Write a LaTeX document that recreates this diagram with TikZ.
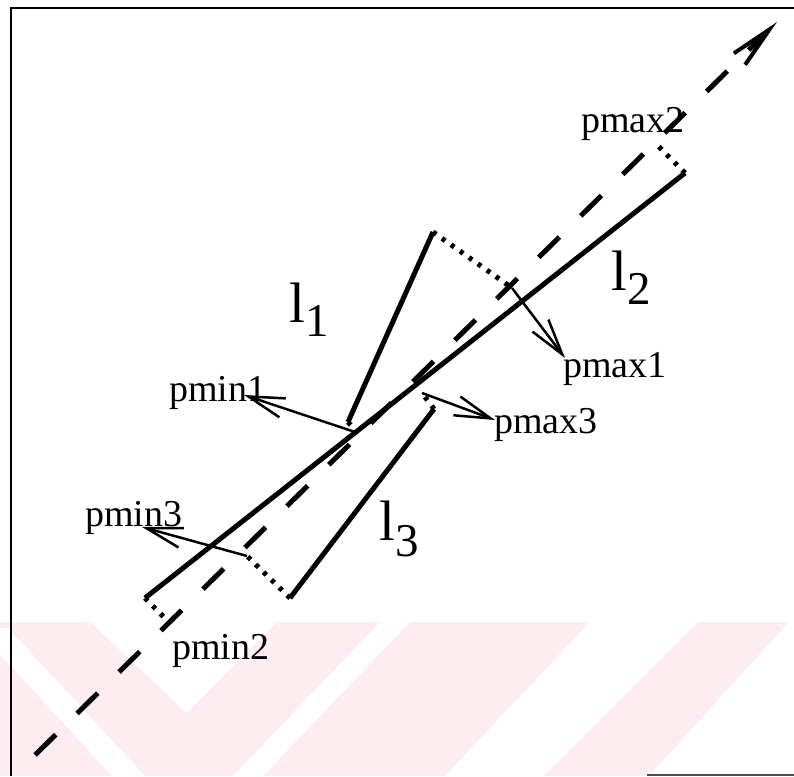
\documentclass[tikz,border=0pt]{standalone}
\usepackage{fontspec}
\setmainfont{Liberation Serif}
\usetikzlibrary{arrows.meta,calc}
\definecolor{wm}{RGB}{253,236,240}
\begin{document}
\begin{tikzpicture}[x=1pt,y=-1pt,
  solidln/.style={line width=5pt},
  dotln/.style={line width=5pt, dash pattern=on 4pt off 7pt},
  axisln/.style={line width=5pt, dash pattern=on 29pt off 30pt, dash phase=49pt,
     -{Straight Barb[length=42pt,width=16pt,line width=4pt]}},
  ptr/.style={line width=2.5pt, -{Straight Barb[length=36pt,width=20pt,line width=2.5pt]}},
  lbl/.style={font=\fontsize{38}{44}\selectfont, inner sep=0pt, anchor=base west},
  big/.style={font=\fontsize{57}{60}\selectfont, inner sep=0pt, anchor=base west},
  wmark/.style={fill=wm, draw=none},
  wgap/.style={fill=white, draw=none}]
\useasboundingbox (0,0) rectangle (794,776);
% watermark band
\fill[wmark] (0,622) rectangle (794,776);
\fill[wgap] (0,628) -- (8,628) -- (145,776) -- (112,776) -- (0,654) -- cycle;
\fill[wgap] (90,622) -- (277,622) -- (187,713) -- cycle;
\fill[wgap] (380,622) -- (410,622) -- (263,776) -- (233,776) -- cycle;
\fill[wgap] (590,622) -- (698,622) -- (544,776) -- (445,776) -- cycle;
\fill[wgap] (789,622) -- (794,622) -- (794,776) -- (649,776) -- cycle;
% frame
\draw[line width=2.5pt] (11,776) -- (11,8) -- (794,8);
\draw[line width=2pt, black!70] (647,775) -- (794,775);
% axis
\coordinate (A0) at (28,762);
\coordinate (A1) at (777,22);
\draw[axisln] (A0) -- (A1);
% segment l2
\coordinate (L2a) at (145,598);
\coordinate (L2b) at (685,173);
\coordinate (Pmin2) at ($(A0)!(L2a)!(A1)$);
\coordinate (Pmax2) at ($(A0)!(L2b)!(A1)$);
\draw[solidln] (L2a) -- (L2b);
\draw[dotln] (L2a) -- (Pmin2);
\draw[dotln] (L2b) -- (Pmax2);
% segment l1
\coordinate (L1a) at (348,422);
\coordinate (L1b) at (433,232);
\coordinate (Pmax1) at (512,288);
\coordinate (Pmin1) at (358,433);
\draw[solidln] (L1a) -- (L1b);
\draw[dotln] (L1b) -- (Pmax1);
\draw[dotln] (L1a) -- (Pmin1);
% segment l3
\coordinate (L3a) at (290,598);
\coordinate (L3b) at (434,409);
\coordinate (Pmin3) at (247,556);
\coordinate (Pmax3) at (422,393);
\draw[solidln] (L3a) -- (L3b);
\draw[dotln] (L3a) -- (Pmin3);
\draw[dotln] (L3b) -- (Pmax3);
% pointer ends
\coordinate (Tmin1) at (244,395);
\coordinate (Tmax1) at (565,358);
\coordinate (Tmin3) at (142,527);
\coordinate (Tmax3) at (495,420);
\draw[ptr] (Pmin1) -- (Tmin1);
\draw[ptr] (Pmax1) -- (Tmax1);
\draw[ptr] (Pmin3) -- (Tmin3);
\draw[ptr] (Pmax3) -- (Tmax3);
% labels
\node[lbl] (tpmax2) at (581,132) {pmax2};
\node[lbl] (tpmax1) at (563,377) {pmax1};
\node[lbl] (tpmax3) at (494,433) {pmax3};
\node[lbl] (tpmin1) at (169,401) {pmin1};
\node[lbl] (tpmin3) at (85,526) {pmin3};
\node[lbl] (tpmin2) at (172,659) {pmin2};
\node[big] (tl1) at (289,322) {l\raisebox{-14pt}{\fontsize{47}{50}\selectfont 1}};
\node[big] (tl2) at (611,290) {l\raisebox{-14pt}{\fontsize{47}{50}\selectfont 2}};
\node[big] (tl3) at (379,540) {l\raisebox{-16pt}{\fontsize{47}{50}\selectfont 3}};
\end{tikzpicture}
\end{document}
